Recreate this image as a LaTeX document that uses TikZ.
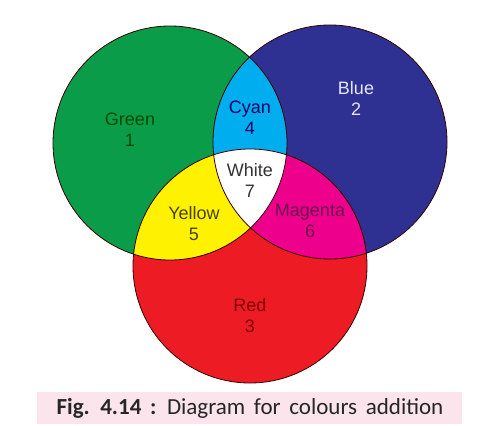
\documentclass[tikz,border=0pt]{standalone}
\usepackage{fontspec}
\setsansfont{Liberation Sans}
\newfontfamily\capfont{Carlito}
\usetikzlibrary{positioning}
\definecolor{cgreen}{HTML}{0B9C4A}
\definecolor{cblue}{HTML}{2E3192}
\definecolor{cred}{HTML}{ED1C24}
\definecolor{ccyan}{HTML}{00AEEF}
\definecolor{cyellow}{HTML}{FFF200}
\definecolor{cmagenta}{HTML}{EC008C}
\definecolor{cpink}{HTML}{FBE4EC}
\tikzset{every picture/.style={/utils/exec={\sffamily}}}

\begin{document}
\begin{tikzpicture}[x=1pt,y=-1pt]
  \tikzstyle{lbl} = [align=center, font=\sffamily\fontsize{18}{21}\selectfont, inner sep=0pt]
  \tikzstyle{rim} = [draw=black!80!red, line width=0.8pt]

  \useasboundingbox (0,0) rectangle (497,425);

  \coordinate (g) at (170,143);
  \coordinate (b) at (330,142);
  \coordinate (r) at (250,266);
  \def\rad{117pt}

  \fill[cgreen] (g) circle[radius=\rad];
  \fill[cblue] (b) circle[radius=\rad];
  \fill[cred] (r) circle[radius=\rad];
  % overlaps
  \begin{scope}
    \clip (g) circle[radius=\rad];
    \fill[ccyan] (b) circle[radius=\rad];
    \fill[cyellow] (r) circle[radius=\rad];
  \end{scope}
  \begin{scope}
    \clip (b) circle[radius=\rad];
    \fill[cmagenta] (r) circle[radius=\rad];
    \clip (g) circle[radius=\rad];
    \fill[white] (r) circle[radius=\rad];
  \end{scope}
  \draw[rim] (g) circle[radius=\rad];
  \draw[rim] (b) circle[radius=\rad];
  \draw[rim] (r) circle[radius=\rad];

  \node (green) [lbl, text=green!30!black] at (130,130) {Green\\1};
  \node (blue) [lbl, text=white!90!blue] at (356,98) {Blue\\2};
  \node (red) [lbl, text=red!50!black] at (250,316) {Red\\3};
  \node (cyan) [lbl, text=blue!40!black] at (250,118) {Cyan\\4};
  \node (yellow) [lbl, text={rgb,255:red,70;green,66;blue,10}] at (194,224) {Yellow\\5};
  \node (magenta) [lbl, text={rgb,255:red,110;green,16;blue,80}] at (310,221) {Magenta\\6};
  \node (white) [lbl, text=black!80] at (250,180) {White\\7};

  \fill[cpink] (37,392) rectangle (462,424);
  \node (caption) [font=\capfont\fontsize{23}{25}\selectfont, text=black!85] at (250,408)
    {\spaceskip=0.38em\textbf{Fig. 4.14 :} Diagram for colours addition};
\end{tikzpicture}
\end{document}
